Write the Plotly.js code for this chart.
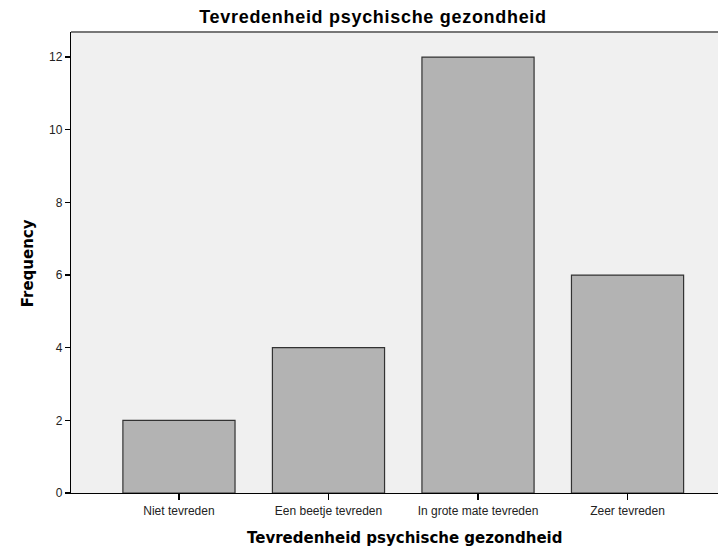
<!DOCTYPE html>
<html><head><meta charset="utf-8">
<script src="https://cdn.plot.ly/plotly-3.0.1.min.js"></script>
<style>html,body{margin:0;padding:0;background:#fff}#c{width:718px;height:548px}.gtitle{letter-spacing:0.7px}</style>
</head><body><div id="c"></div>
<script>
const categories = ["Niet tevreden", "Een beetje tevreden", "In grote mate tevreden", "Zeer tevreden"];
const frequencies = [2, 4, 12, 6];
const yTicks = [0, 2, 4, 6, 8, 10, 12];
const chartTitle = "Tevredenheid psychische gezondheid";
const xTitle = "Tevredenheid psychische gezondheid";
const yTitle = "Frequency";

const trace = {
  type: "bar", x: categories, y: frequencies, width: 0.75,
  marker: {color: "#b3b3b3", line: {color: "#333333", width: 1.2}},
  hoverinfo: "none"
};
const layout = {
  width: 718, height: 548,
  margin: {l: 71, r: 0, t: 32, b: 55},
  paper_bgcolor: "#ffffff", plot_bgcolor: "#f0f0f0",
  showlegend: false,
  title: {text: chartTitle, x: 0.5195, xref: "container", xanchor: "center", y: 0.969, yref: "container", yanchor: "middle",
          font: {family: "Liberation Sans, Arial", size: 18, color: "#000", weight: "bold"}},
  xaxis: {range: [-0.722, 3.605], showgrid: false, zeroline: false, showline: true, linecolor: "#000", linewidth: 1.2,
          ticks: "outside", ticklen: 6, tickcolor: "#000", tickwidth: 1.2,
          tickfont: {family: "Liberation Sans, Arial", size: 12, color: "#222"}, fixedrange: true},
  yaxis: {range: [0, 12.69], tickvals: yTicks, showgrid: false, zeroline: false, showline: true, linecolor: "#000", linewidth: 1.2,
          ticks: "outside", ticklen: 5, tickcolor: "#000", tickwidth: 1.2,
          tickfont: {family: "Liberation Sans, Arial", size: 12, color: "#222"}, fixedrange: true},
  shapes: [{type: "line", xref: "paper", yref: "paper", x0: 0, x1: 1, y0: 1, y1: 1, line: {color: "#777", width: 2}}],
  annotations: [
    {text: "<b>" + xTitle + "</b>", xref: "paper", yref: "paper", x: 0.515, y: -0.097, xanchor: "center", yanchor: "middle",
     showarrow: false, font: {family: "DejaVu Sans", size: 15, color: "#000"}},
    {text: "<b>" + yTitle + "</b>", xref: "paper", yref: "paper", x: -0.066, y: 0.499, xanchor: "center", yanchor: "middle",
     textangle: -90, showarrow: false, font: {family: "DejaVu Sans", size: 15, color: "#000"}}
  ]
};
Plotly.newPlot("c", [trace], layout, {displayModeBar: false, staticPlot: true});
</script></body></html>
